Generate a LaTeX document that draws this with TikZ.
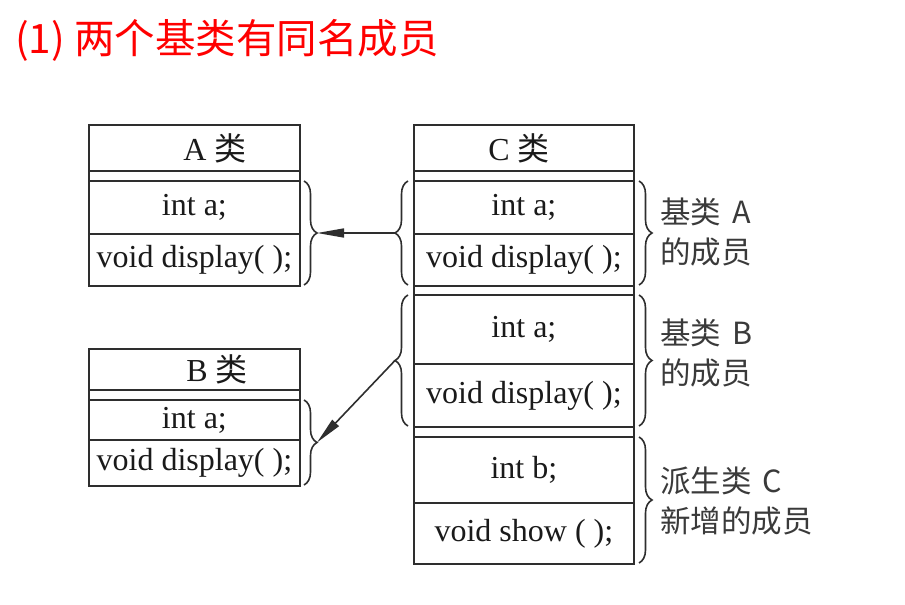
\documentclass[tikz,border=0pt]{standalone}
\usepackage{fontspec}
\setmainfont{Liberation Serif}
\newfontfamily\cjk{Noto Sans CJK SC}
\usetikzlibrary{decorations.pathreplacing,arrows.meta}
\definecolor{linec}{HTML}{2E2E2E}
\definecolor{txtc}{HTML}{1A1A1A}
\definecolor{lblc}{HTML}{3A3A3A}
\definecolor{titlec}{HTML}{FF0000}
\begin{document}
\begin{tikzpicture}[x=1pt,y=-1pt,
  cell/.style={draw=linec, line width=1.8pt, inner sep=0pt, anchor=north west,
    font=\fontsize{32}{36}\selectfont, text=txtc},
  txt/.style={inner sep=0pt, font=\fontsize{32}{36}\selectfont, text=txtc},
  brc/.style={draw=linec, line width=1.6pt, decorate,
    decoration={brace, amplitude=13pt, aspect=0.5}},
  arr/.style={draw=linec, line width=1.6pt, -{Triangle[length=27pt,width=9pt]}},
  lbl/.style={anchor=west, inner sep=0pt, align=left, text=lblc,
    font=\cjk\fontsize{30.5}{40}\selectfont},
]
\useasboundingbox (0,0) rectangle (905,605);
\fill[white] (0,0) rectangle (905,605);

% title
\node[anchor=west, inner sep=0pt, text=titlec, font=\cjk\fontsize{40.5}{44}\selectfont]
  (title) at (15,40) {(1) 两个基类有同名成员};

% class A
\node[cell, minimum width=211pt, minimum height=46pt] (At) at (88,124) {};
\node[cell, minimum width=211pt, minimum height=10pt] (Ag) at (88,170) {};
\node[cell, minimum width=211pt, minimum height=53pt] (Aa) at (88,180) {int a;};
\node[cell, minimum width=211pt, minimum height=52pt] (Ad) at (88,233) {void display( );};
\node[txt] (Atx) at (215,148) {A {\cjk 类}};

% class B
\node[cell, minimum width=211pt, minimum height=41pt] (Bt) at (88,348) {};
\node[cell, minimum width=211pt, minimum height=10pt] (Bg) at (88,389) {};
\node[cell, minimum width=211pt, minimum height=40pt] (Ba) at (88,399) {int a;};
\node[cell, minimum width=211pt, minimum height=46pt] (Bd) at (88,439) {void display( );};
\node[txt] (Btx) at (217,369) {B {\cjk 类}};

% class C
\node[cell, minimum width=220pt, minimum height=46pt] (Ct) at (413,124) {};
\node[cell, minimum width=220pt, minimum height=10pt] (Cg1) at (413,170) {};
\node[cell, minimum width=220pt, minimum height=53pt] (CAa) at (413,180) {int a;};
\node[cell, minimum width=220pt, minimum height=52pt] (CAd) at (413,233) {void display( );};
\node[cell, minimum width=220pt, minimum height=9pt] (Cg2) at (413,285) {};
\node[cell, minimum width=220pt, minimum height=69pt] (CBa) at (413,294) {int a;};
\node[cell, minimum width=220pt, minimum height=63pt] (CBd) at (413,363) {void display( );};
\node[cell, minimum width=220pt, minimum height=10pt] (Cg3) at (413,426) {};
\node[cell, minimum width=220pt, minimum height=66pt] (Cb) at (413,436) {int b;};
\node[cell, minimum width=220pt, minimum height=61pt] (Cs) at (413,502) {void show ( );};
\node[txt] (Ctx) at (519,148) {C {\cjk 类}};

% braces
\draw[brc] (304,181) -- (304,285);
\coordinate (tipA) at (317,233);
\draw[brc] (304,400) -- (304,485);
\coordinate (tipB) at (317,442.5);
\draw[brc] (408,285) -- (408,181);
\coordinate (tipCA) at (395,233);
\draw[brc] (408,426) -- (408,295);
\coordinate (tipCB) at (395,360.5);
\draw[brc] (639,181) -- (639,285);
\draw[brc] (639,295) -- (639,426);
\draw[brc] (639,437) -- (639,563);

% arrows
\draw[arr] (tipCA) -- (tipA);
\draw[arr] (tipCB) -- (tipB);

% labels
\node[lbl] (LA) at (660,232) {基类\hspace{4pt} A\\的成员};
\node[lbl] (LB) at (660,353) {基类\hspace{4pt} B\\的成员};
\node[lbl] (LC) at (660,501) {派生类\hspace{4pt} C\\新增的成员};
\end{tikzpicture}
\end{document}
